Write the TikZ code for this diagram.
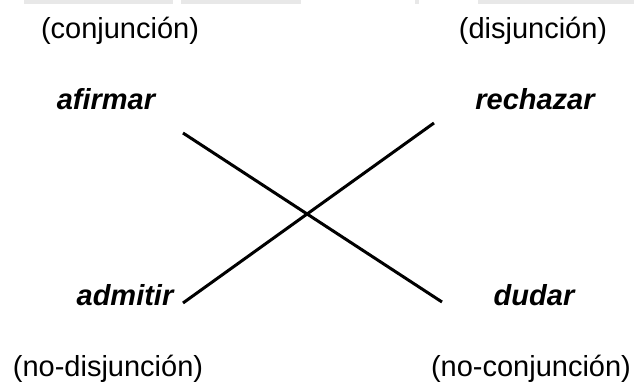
\documentclass[tikz,border=0pt]{standalone}
\usepackage{fontspec}
\setmainfont{Liberation Sans}
\begin{document}
\begin{tikzpicture}[x=0.5pt, y=-0.5pt, font=\fontsize{14.5}{17}\selectfont]
		\useasboundingbox (0,0) rectangle (634,385);
		%\draw[help lines, step=50] (0,0) grid (634,385);
		
		\foreach \a\b in {24/173, 181/301, 415/419, 478/634}
		\fill[black!9] (\a,0) rectangle (\b,4);
		
		\foreach \n\s\x\y in {conj/(conjunción)/120/39, disj/(disjunción)/533/39,
			nodisj/(no-disjunción)/108/377, noconj/(no-conjunción)/531/377
		}
		\node[anchor=base, inner sep=0pt] (\n) at (\x, \y) {\s};
		
		\foreach \n\s\x\y in {afirmar/afirmar/106/110, rechazar/rechazar/535/110,
			admitir/admitir/125/306, dudar/dudar/534/306
		}
		\node[anchor=base, inner sep=0pt, font=\fontsize{14.5}{17}\selectfont\bfseries\itshape] (\n) at (\x, \y) {\s};
		
		\coordinate (a1) at (183, 133);
		\coordinate (d1) at (442, 302);
		\coordinate (a2) at (183, 303);
		\coordinate (r2) at (434, 123);
		
		\draw[line width=1.5pt] (a1) -- (d1);
		\draw[line width=1.5pt] (a2) -- (r2);
	\end{tikzpicture}
\end{document}
